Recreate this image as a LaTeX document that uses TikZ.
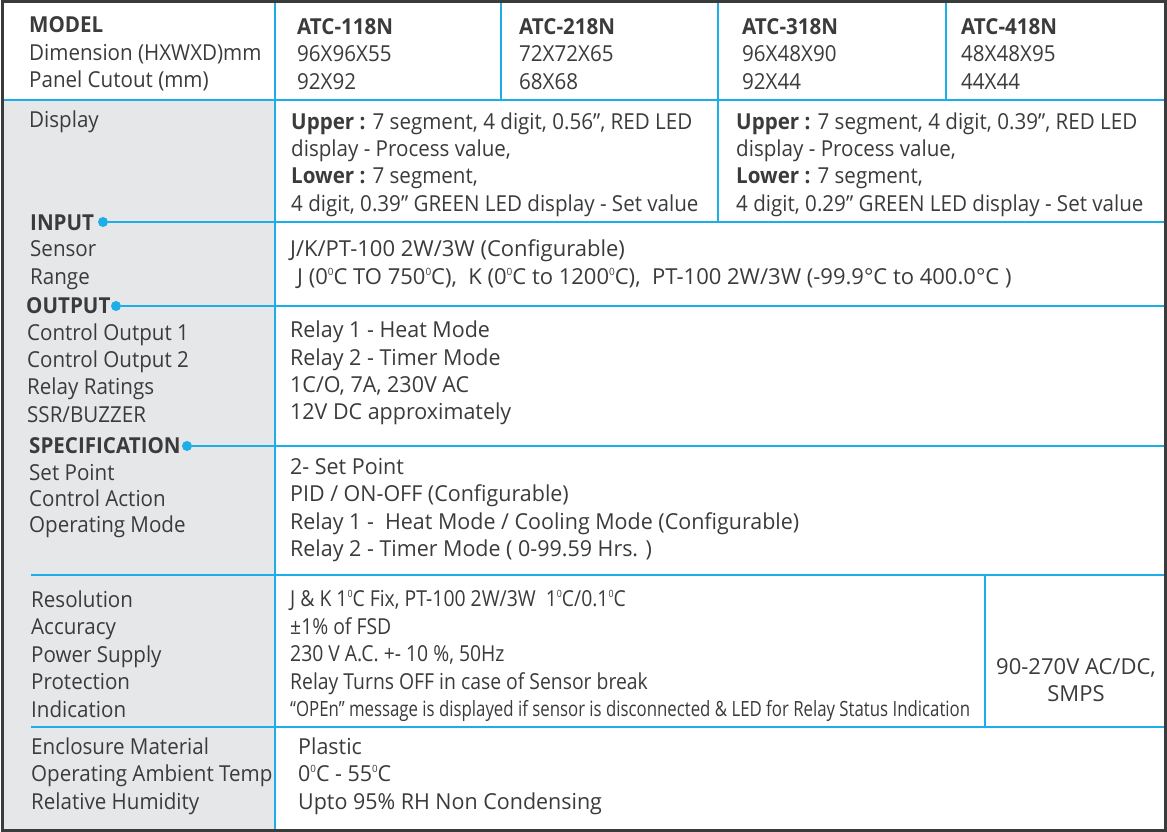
\documentclass[tikz,border=0pt]{standalone}
\usepackage{fontspec}
\setmainfont{Open Sans}[FakeStretch=0.935]
\newfontfamily\widefont{Open Sans}
\newfontfamily\midfont{Open Sans}[FakeStretch=0.975]
\newfontfamily\narrowfont{Open Sans}[FakeStretch=0.88]
\newfontfamily\tightfont{Open Sans}[FakeStretch=0.80]
\definecolor{rulecyan}{HTML}{1BAEE8}
\definecolor{panelgrey}{HTML}{E6E7E8}
\definecolor{ink}{HTML}{3B3B3B}
\newcommand{\sz}{\raisebox{9pt}{\fontsize{10}{10}\selectfont 0}}

\begin{document}
\begin{tikzpicture}[x=1pt, y=-1pt,
  body/.style={font=\fontsize{22}{27.4}\selectfont},
  mid/.style={font=\midfont\fontsize{22}{27.4}\selectfont},
  wide/.style={font=\widefont\fontsize{22}{27.4}\selectfont},
  slim/.style={font=\narrowfont\fontsize{22}{27.6}\selectfont},
  txt/.style={body, anchor=west, inner sep=0pt, align=left, text=ink},
  rule/.style={rulecyan, line width=2.5pt},
  dot/.style={circle, fill=rulecyan, inner sep=0pt, minimum size=10pt}]

\useasboundingbox (0,0) rectangle (1167,832);
\fill[white] (0,0) rectangle (1167,832);
\fill[panelgrey] (2,100) rectangle (275,830);
\coordinate (east) at (1165,0);

\draw[rule] (2,100) -- (1165,100);
\draw[rule] (275,2) -- (275,830);
\draw[rule] (501,2) -- (501,100);
\draw[rule] (718,2) -- (718,222);
\draw[rule] (946,2) -- (946,100);

\node[txt] (model) at (29,54) {\textbf{MODEL}\\Dimension (HXWXD)mm\\Panel Cutout (mm)};
\node[txt] (atc118) at (297,54) {\textbf{ATC-118N}\\96X96X55\\92X92};
\node[txt] (atc218) at (519,54) {\textbf{ATC-218N}\\72X72X65\\68X68};
\node[txt] (atc318) at (742,54) {\textbf{ATC-318N}\\96X48X90\\92X44};
\node[txt] (atc418) at (961,54) {\textbf{ATC-418N}\\48X48X95\\44X44};

\node[txt] (display) at (29,122) {Display};
\node[txt] (disp1) at (291,164.5) {\textbf{Upper :} 7 segment, 4 digit, 0.56”, RED LED\\display - Process value,\\\textbf{Lower :} 7 segment,\\4 digit, 0.39” GREEN LED display - Set value};
\node[txt] (disp2) at (736,164.5) {\textbf{Upper :} 7 segment, 4 digit, 0.39”, RED LED\\display - Process value,\\\textbf{Lower :} 7 segment,\\4 digit, 0.29” GREEN LED display - Set value};

\node[txt] (input) at (30,223) {\textbf{INPUT}};
\node[dot] (inputdot) at (103,222) {};
\draw[rule] (inputdot) -- (inputdot -| east);
\node[txt] (inputrows) at (30,265) {Sensor\\Range};
\node[txt, wide] (sensor) at (290,251) {J/K/PT-100 2W/3W (Configurable)};
\node[txt, wide] (range) at (297,278) {J (0\sz C TO 750\sz C),\ \ K (0\sz C to 1200\sz C),\ \ PT-100 2W/3W (-99.9°C to 400.0°C )};

\node[txt] (output) at (26,306) {\textbf{OUTPUT}};
\node[dot] (outputdot) at (116,306) {};
\draw[rule] (outputdot) -- (outputdot -| east);
\node[txt] (outputrows) at (27,373) {Control Output 1\\Control Output 2\\Relay Ratings\\SSR/BUZZER};
\node[txt, mid] (relays) at (290,373) {Relay 1 - Heat Mode\\Relay 2 - Timer Mode\\1C/O, 7A, 230V AC\\12V DC approximately};

\node[txt] (spec) at (29,446) {\textbf{SPECIFICATION}};
\node[dot] (specdot) at (187,446) {};
\draw[rule] (specdot) -- (specdot -| east);
\node[txt, font=\fontsize{22}{26}\selectfont] (specrows) at (29,501) {Set Point\\Control Action\\Operating Mode};
\node[txt, mid] (setpoint) at (290,510) {2- Set Point\\PID / ON-OFF (Configurable)\\Relay 1 -\ \ Heat Mode / Cooling Mode (Configurable)\\Relay 2 - Timer Mode ( 0-99.59 Hrs. )};

\coordinate (resline) at (31,575);
\draw[rule] (resline) -- (resline -| east);
\draw[rule] (985,575) -- (985,727);
\node[txt] (resrows) at (31,654) {Resolution\\Accuracy\\Power Supply\\Protection\\Indication};
\node[txt, slim] (resvals) at (290,656) {J \& K 1\sz C Fix, PT-100 2W/3W\ \ 1\sz C/0.1\sz C\\±1\% of FSD\\230 V A.C. +- 10 \%, 50Hz\\Relay Turns OFF in case of Sensor break\\{\tightfont\fontsize{21}{27.6}\selectfont “OPEn” message is displayed if sensor is disconnected \& LED for Relay Status Indication}};
\node[txt, wide, align=center, anchor=center] (smps) at (1076,680) {90-270V AC/DC,\\SMPS};

\coordinate (encline) at (31,727);
\draw[rule] (encline) -- (encline -| east);
\node[txt] (encrows) at (31,776) {Enclosure Material\\Operating Ambient Temp\\Relative Humidity};
\node[txt, mid] (encvals) at (298,776) {Plastic\\0\sz C - 55\sz C\\Upto 95\% RH Non Condensing};

\draw[ink, line width=3pt] (2,2) rectangle (1165,830);
\end{tikzpicture}
\end{document}
